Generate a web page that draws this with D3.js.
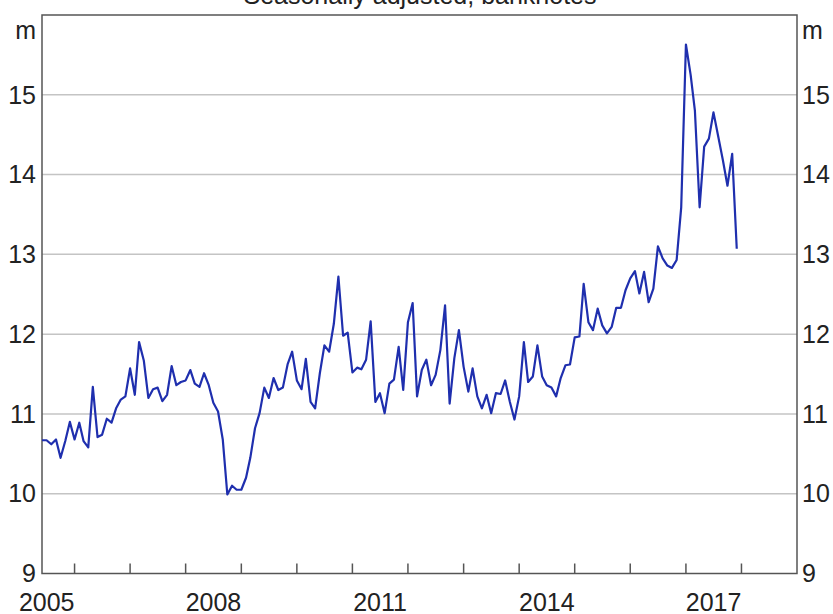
<!DOCTYPE html>
<html>
<head>
<meta charset="utf-8">
<script src="https://cdn.jsdelivr.net/npm/d3@7"></script>
<style>
  body { margin: 0; background: #fff; }
  text { font-family: "Liberation Sans", Arial, sans-serif; fill: #222; }
</style>
</head>
<body>
<div id="chart"></div>
<script>
// monthly series, first observation June 2005
const startYear = 2005;
const startMonth = 6;
const banknotes = [
  10.67, 10.67, 10.62, 10.68, 10.45, 10.66, 10.90, 10.68, 10.89, 10.66,
  10.58, 11.34, 10.71, 10.74, 10.94, 10.89, 11.07, 11.18, 11.22, 11.57,
  11.24, 11.90, 11.67, 11.20, 11.31, 11.33, 11.16, 11.24, 11.60, 11.36,
  11.40, 11.42, 11.55, 11.38, 11.34, 11.51, 11.36, 11.14, 11.03, 10.68,
  9.99, 10.10, 10.05, 10.05, 10.20, 10.45, 10.82, 11.01, 11.33, 11.20,
  11.45, 11.30, 11.33, 11.62, 11.78, 11.42, 11.31, 11.69, 11.15, 11.07,
  11.51, 11.86, 11.78, 12.13, 12.72, 11.98, 12.02, 11.52, 11.58, 11.56,
  11.68, 12.16, 11.15, 11.26, 11.01, 11.38, 11.43, 11.84, 11.30, 12.15,
  12.39, 11.22, 11.55, 11.68, 11.36, 11.49, 11.80, 12.36, 11.13, 11.70,
  12.05, 11.59, 11.28, 11.57, 11.22, 11.07, 11.24, 11.01, 11.26, 11.25,
  11.42, 11.15, 10.93, 11.22, 11.90, 11.40, 11.47, 11.86, 11.47, 11.36,
  11.33, 11.22, 11.45, 11.61, 11.62, 11.96, 11.97, 12.63, 12.15, 12.05,
  12.32, 12.11, 12.01, 12.09, 12.33, 12.33, 12.55, 12.70, 12.79, 12.51,
  12.78, 12.40, 12.57, 13.10, 12.95, 12.86, 12.83, 12.93, 13.59, 15.63,
  15.25, 14.80, 13.59, 14.35, 14.45, 14.78, 14.48, 14.18, 13.86, 14.26,
  13.07
];
const yTicks = [9, 10, 11, 12, 13, 14, 15];
const yearLabels = [2005, 2008, 2011, 2014, 2017];
const unitLabel = "m";
const title = "Seasonally adjusted, banknotes";

(function(){
  const width = 833, height = 614;
  const plotLeft = 42, plotRight = 797, plotTop = 15, plotBottom = 573.5;

  const data = banknotes.map((v, i) => ({
    date: new Date(startYear, startMonth - 1 + i, 1),
    value: v
  }));

  const svg = d3.select("#chart").append("svg")
    .attr("width", width)
    .attr("height", height)
    .style("background", "#fff");

  const x = d3.scaleTime()
    .domain([new Date(2005, 5, 1), new Date(2019, 0, 1)])
    .range([plotLeft, plotRight]);

  const y = d3.scaleLinear()
    .domain([9, 16])
    .range([plotBottom, plotTop]);

  // title, mostly cut off by the top edge
  svg.append("text")
    .attr("x", 420)
    .attr("y", 4)
    .attr("text-anchor", "middle")
    .style("font-size", "25px")
    .text(title);

  // gridlines
  svg.append("g")
    .selectAll("line")
    .data(yTicks.filter(d => d > 9))
    .enter()
    .append("line")
    .attr("x1", plotLeft)
    .attr("x2", plotRight)
    .attr("y1", d => y(d))
    .attr("y2", d => y(d))
    .style("stroke", "#c4c4c4")
    .style("stroke-width", "1.5px");

  // frame
  svg.append("rect")
    .attr("x", plotLeft)
    .attr("y", plotTop)
    .attr("width", plotRight - plotLeft)
    .attr("height", plotBottom - plotTop)
    .style("fill", "none")
    .style("stroke", "#555")
    .style("stroke-width", "1.5px");

  // year ticks along the bottom, pointing up
  svg.append("g")
    .selectAll("line")
    .data(d3.timeYear.range(new Date(2006, 0, 1), new Date(2019, 0, 1)))
    .enter()
    .append("line")
    .attr("x1", d => x(d))
    .attr("x2", d => x(d))
    .attr("y1", plotBottom)
    .attr("y2", plotBottom - 10)
    .style("stroke", "#555")
    .style("stroke-width", "1.5px");

  // year labels centred in their year
  svg.append("g")
    .selectAll("text")
    .data(yearLabels)
    .enter()
    .append("text")
    .attr("x", d => x(new Date(d, 6, 2)))
    .attr("y", 602)
    .attr("dy", "0.35em")
    .attr("text-anchor", "middle")
    .style("font-size", "25px")
    .text(d => d);

  // y labels on both sides
  const yl = svg.append("g");
  yl.selectAll(".yl")
    .data(yTicks)
    .enter()
    .append("text")
    .attr("class", "yl")
    .attr("x", plotLeft - 6)
    .attr("y", d => y(d))
    .attr("dy", "0.35em")
    .attr("text-anchor", "end")
    .style("font-size", "25px")
    .text(d => d);
  yl.selectAll(".yr")
    .data(yTicks)
    .enter()
    .append("text")
    .attr("class", "yr")
    .attr("x", plotRight + 5)
    .attr("y", d => y(d))
    .attr("dy", "0.35em")
    .attr("text-anchor", "start")
    .style("font-size", "25px")
    .text(d => d);

  svg.append("text")
    .attr("x", plotLeft - 6)
    .attr("y", 30)
    .attr("dy", "0.35em")
    .attr("text-anchor", "end")
    .style("font-size", "25px")
    .text(unitLabel);
  svg.append("text")
    .attr("x", plotRight + 5)
    .attr("y", 30)
    .attr("dy", "0.35em")
    .style("font-size", "25px")
    .text(unitLabel);

  // series
  const line = d3.line()
    .x(d => x(d.date))
    .y(d => y(d.value));

  svg.append("path")
    .datum(data)
    .attr("d", line)
    .style("fill", "none")
    .style("stroke", "#1f2fae")
    .style("stroke-width", "2.2px")
    .style("stroke-linejoin", "round");
})();
</script>
</body>
</html>
